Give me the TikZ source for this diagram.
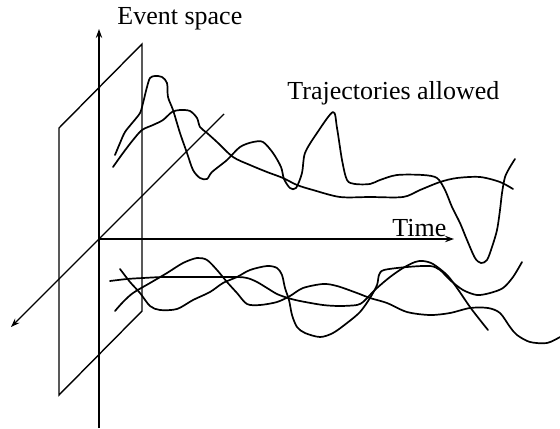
\documentclass[tikz,border=0pt]{standalone}
\usepackage{fontspec}
\setmainfont{Liberation Serif}
\usetikzlibrary{arrows.meta}

\begin{document}
\begin{tikzpicture}[x=0.5pt,y=-0.5pt,
    >={Stealth[length=4.5pt,width=3.2pt,inset=1.6pt]},
    axis/.style={line width=0.7pt},
    traj/.style={line width=0.85pt,line join=round,line cap=round},
    lbl/.style={inner sep=0pt,anchor=base west,font=\fontsize{13}{15}\selectfont}]
    \useasboundingbox (0,0) rectangle (560,428);
    \coordinate (O) at (99,239); \coordinate (Vb) at (99,428);
    \coordinate (Vt) at (99,29); \coordinate (Ht) at (454,239);
    \coordinate (Db) at (11,327); \coordinate (Dt) at (224,114);
    \coordinate (P1) at (59,128); \coordinate (P2) at (142,44);
    \coordinate (P3) at (142,311); \coordinate (P4) at (59,395);
    \node[lbl] (Ev) at (117,25) {Event space};
    \node[lbl] (Tr) at (287,99) {Trajectories allowed};
    \node[lbl] (Ti) at (392,236) {Time};
    \draw[axis] (P1) -- (P2) -- (P3) -- (P4) -- cycle;
    \draw[axis,->] (Vb) -- (Vt); \draw[axis,->] (O) -- (Ht);
    \draw[axis,->] (Dt) -- (Db);
    \draw[traj] plot[smooth,tension=0.5] coordinates {(115,155) (120,143)
      (125,132) (133,122) (140,113) (143,103) (147,87) (150,78) (155,76)
      (162,77) (167,83) (168,97) (173,110) (180,133) (187,153) (193,170)
      (200,178) (207,179) (212,172) (227,160) (240,147) (253,142) (263,142)
      (273,153) (281,167) (284,179) (290,188) (296,188) (302,173) (305,153)
      (317,133) (333,112) (337,128) (342,160) (347,180) (355,184) (370,184)
      (380,180) (397,175) (423,175) (437,178) (445,190) (452,207) (460,223)
      (467,240) (475,258) (481,263) (487,260) (492,247) (497,230) (500,210)
      (502,193) (505,177) (510,167) (515,159)};
    \draw[traj] plot[smooth,tension=0.5] coordinates {(113,167) (123,153)
      (133,140) (142,130) (153,125) (163,120) (172,112) (180,110) (190,111)
      (197,118) (200,127) (207,133) (217,142) (233,157) (250,165) (267,172)
      (283,178) (297,185) (313,190) (340,197) (370,197) (403,197) (420,190)
      (440,182) (457,178) (480,177) (500,182) (513,189)};
    \draw[traj] plot[smooth,tension=0.5] coordinates {(120,269) (130,282)
      (140,293) (150,306) (160,310) (177,309) (193,300) (210,292) (223,283)
      (237,277) (250,270) (267,266) (277,268) (282,275) (285,288) (289,300)
      (292,315) (297,327) (305,333) (320,337) (333,333) (347,323) (360,312)
      (370,298) (377,285) (379,275) (384,270) (407,267) (430,266) (440,270)
      (450,280) (463,290) (477,295) (490,293) (503,288) (513,277) (522,262)};
    \draw[traj] plot[smooth,tension=0.5] coordinates {(110,281) (127,279)
      (143,278) (167,277) (233,277) (247,278) (257,282) (267,288) (277,294)
      (288,298) (300,301) (323,305) (340,306) (357,305) (363,302) (368,297)
      (377,288) (390,277) (403,268) (415,262) (423,261) (433,264) (447,275)
      (457,288) (470,307) (480,320) (488,330)};
    \draw[traj] plot[smooth,tension=0.5] coordinates {(115,311) (123,302)
      (133,293) (150,283) (167,273) (183,263) (197,258) (207,260) (217,270)
      (227,282) (237,293) (247,304) (260,305) (277,302) (290,296) (303,288)
      (323,284) (337,286) (357,293) (370,298) (387,303) (407,312) (430,315)
      (450,313) (470,308) (488,308) (500,313) (510,327) (517,335) (530,342)
      (547,343) (560,337)};
  \end{tikzpicture}
\end{document}
